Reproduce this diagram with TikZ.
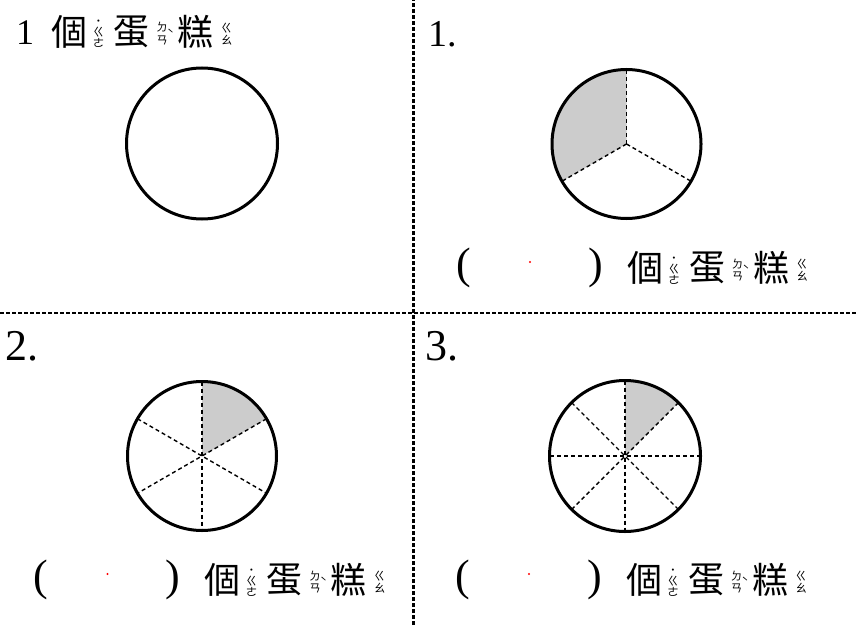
\documentclass[tikz,border=0pt]{standalone}
\usepackage{fontspec}
\setmainfont{Liberation Serif}
\newfontfamily\cjk{Noto Sans CJK TC}
\definecolor{cakegray}{RGB}{204,204,204}
\tikzset{
	divider/.style={dash pattern=on 4pt off 2pt, line width=2.4pt},
	spoke/.style={dash pattern=on 4pt off 3pt, line width=1.4pt},
	rim/.style={line width=3pt},
	slice/.style={draw=none, fill=cakegray},
	hanzi/.style={inner sep=0pt, font=\cjk\fontsize{36}{36}\selectfont},
	zhuyin/.style={anchor=base, inner sep=0pt, text height=4pt, text depth=0pt,
		font=\cjk\fontsize{11.5}{11.5}\selectfont},
	numlabel/.style={anchor=base west, inner sep=0pt, font=\fontsize{38}{38}\selectfont},
	paren/.style={inner sep=0pt, font=\fontsize{44}{44}\selectfont}
}
% one row of the word with its zhuyin
\newcommand{\gedangao}[2]{%
	\begin{scope}[shift={(#2)}]
		\node [hanzi] (#1ge) at (0,0) {個};
		\node [zhuyin] (#1ge-t) at (29,5.6) {˙};
		\node [zhuyin] (#1ge-a) at (29,-5.4) {ㄍ};
		\node [zhuyin] (#1ge-b) at (29,-16.4) {ㄜ};
		\node [hanzi] (#1dan) at (62,0) {蛋};
		\node [zhuyin] (#1dan-a) at (92.5,-0.4) {ㄉ};
		\node [zhuyin] (#1dan-b) at (92.5,-12.9) {ㄢ};
		\node [zhuyin] (#1dan-t) at (101,-6.9) {ˋ};
		\node [hanzi] (#1gao) at (126,0) {糕};
		\node [zhuyin] (#1gao-a) at (157,-0.9) {ㄍ};
		\node [zhuyin] (#1gao-b) at (157,-12.9) {ㄠ};
	\end{scope}}
\begin{document}
\begin{tikzpicture}[x=1pt, y=1pt]
	\useasboundingbox (0,0) rectangle (858,625);
	\draw [divider] (413.5,0) -- (413.5,625);
	\draw [divider, line width=1.8pt] (0,312.3) -- (858,312.3);

	\coordinate (whole) at (202,481.5);
	\coordinate (thirds) at (626.5,481);
	\coordinate (sixths) at (202,169);
	\coordinate (eighths) at (625,169);

	% whole cake
	\draw [rim] (whole) circle (75.5);

	% thirds
	\fill [slice] (thirds) -- ++(90:74.5) arc [start angle=90, end angle=210, radius=74.5] -- cycle;
	\foreach \a in {90,210,330}
		\draw [spoke] (thirds) -- ++(\a:74.5);
	\draw [rim] (thirds) circle (74.5);

	% sixths, drawn as diameters
	\fill [slice] (sixths) -- ++(30:74.5) arc [start angle=30, end angle=90, radius=74.5] -- cycle;
	\foreach \a in {30,90,150}
		\draw [spoke] (sixths) ++(\a:74.5) -- ++(\a+180:149);
	\draw [rim] (sixths) circle (74.5);

	% eighths, drawn as diameters
	\fill [slice] (eighths) -- ++(45:75.5) arc [start angle=45, end angle=90, radius=75.5] -- cycle;
	\foreach \a in {0,45,90,135}
		\draw [spoke] (eighths) ++(\a:75.5) -- ++(\a+180:151);
	\draw [rim] (eighths) circle (75.5);

	% labels
	\node [numlabel, font=\fontsize{36}{36}\selectfont] (one) at (16,580) {1};
	\gedangao{tl}{69.5,593.5}
	\node [numlabel] (q1) at (428,578) {1.};
	\node [numlabel, font=\fontsize{44}{44}\selectfont] (q2) at (5,265) {2.};
	\node [numlabel, font=\fontsize{44}{44}\selectfont] (q3) at (425,265) {3.};

	\foreach \name/\px/\py in {tr/645/357, bl/222.5/45, br/644/45} {
		\node [paren] (\name-open) at (\px-181.5,\py) {(};
		\node [paren] (\name-close) at (\px-49.5,\py) {)};
		\fill [red] (\px-115,\py+6) circle (1.1);
		\gedangao{\name}{\px,\py}
	}
\end{tikzpicture}
\end{document}
